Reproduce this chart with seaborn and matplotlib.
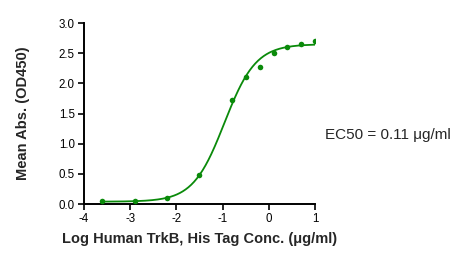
import numpy as np
import pandas as pd
import matplotlib
matplotlib.use("Agg")
import matplotlib.pyplot as plt
import seaborn as sns

# Data
log_conc = [-3.6, -2.9, -2.2, -1.5, -0.8, -0.5, -0.19, 0.11, 0.40, 0.70, 1.0]
mean_abs = [0.05, 0.055, 0.10, 0.49, 1.72, 2.10, 2.28, 2.51, 2.61, 2.65, 2.70]

# 4PL fit parameters (fitted curve shown in the chart)
fit_bottom = 0.04
fit_top = 2.65
fit_log_ec50 = -0.96
fit_hill = 1.28

x_ticks = [-4, -3, -2, -1, 0, 1]
y_ticks = [0.0, 0.5, 1.0, 1.5, 2.0, 2.5, 3.0]
x_label = "Log Human TrkB, His Tag Conc. (\u03bcg/ml)"
y_label = "Mean Abs. (OD450)"
ec50_text = "EC50 = 0.11 \u03bcg/ml"

sns.set_theme(style="ticks")
plt.rcParams['font.family'] = ['Liberation Sans', 'DejaVu Sans']

green = "#0a8a0a"

fig = plt.figure(figsize=(4.66, 2.62), dpi=100)
ax = fig.add_axes([0.180, 0.221, 0.496, 0.691])

df = pd.DataFrame({"x": log_conc, "y": mean_abs})
xs = np.linspace(min(log_conc), max(log_conc), 300)
ys = fit_bottom + (fit_top - fit_bottom) / (1 + 10 ** ((fit_log_ec50 - xs) * fit_hill))
curve = pd.DataFrame({"x": xs, "y": ys})

sns.lineplot(data=curve, x="x", y="y", ax=ax, color=green, linewidth=1.3)
sns.scatterplot(data=df, x="x", y="y", ax=ax, color=green, s=16, edgecolor=green, linewidth=0, zorder=3)

ax.set_xlim(-4, 1)
ax.set_ylim(0, 3)
ax.set_xticks(x_ticks)
ax.set_xticklabels([str(t) for t in x_ticks])
ax.set_yticks(y_ticks)
ax.set_yticklabels([f"{t:.1f}" for t in y_ticks])
ax.tick_params(axis='both', labelsize=8.3, length=4, width=1.2, pad=2.5, colors='black')
for s in ["left", "bottom"]:
    ax.spines[s].set_linewidth(1.4)
    ax.spines[s].set_color("black")
sns.despine(ax=ax)

ax.set_xlabel(x_label, fontsize=10.5, fontweight='bold')
ax.set_ylabel(y_label, fontsize=10.5, fontweight='bold')
ax.xaxis.set_label_coords(0.5, -0.155)
ax.yaxis.set_label_coords(-0.232, 0.5)

fig.text(0.697, 0.485, ec50_text, fontsize=11, ha='left', va='center')

fig.savefig("out.png", dpi=100)
